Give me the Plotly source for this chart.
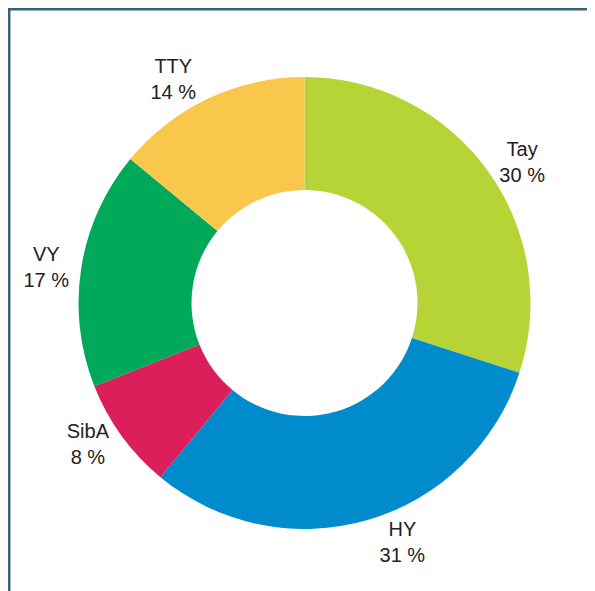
import plotly.graph_objects as go

labels = ["Tay", "HY", "SibA", "VY", "TTY"]
values = [30, 31, 8, 17, 14]
colors = ["#b6d435", "#008bcd", "#da1f5a", "#00a859", "#f9c74c"]

W, H = 595, 591
cx, cy, R = 296.5, 295, 226

fig = go.Figure(go.Pie(
    labels=labels,
    values=values,
    hole=0.5,
    sort=False,
    direction="clockwise",
    rotation=0,
    marker=dict(colors=colors, line=dict(width=0)),
    texttemplate="%{label}<br>%{value} %",
    textposition="outside",
    outsidetextfont=dict(family="Liberation Sans, Arial, sans-serif", size=20, color="#222222"),
    showlegend=False,
    domain=dict(x=[(cx - R) / W, (cx + R) / W], y=[(H - cy - R) / H, (H - cy + R) / H]),
))

fig.update_layout(
    width=W, height=H,
    margin=dict(l=0, r=0, t=0, b=0),
    paper_bgcolor="white",
    shapes=[dict(type="rect", xref="paper", yref="paper",
                 x0=1.2 / W, x1=1.05, y0=-0.05, y1=(H - 1.2) / H,
                 line=dict(color="#3d6074", width=2.5))],
)

fig.write_html("out.html")
